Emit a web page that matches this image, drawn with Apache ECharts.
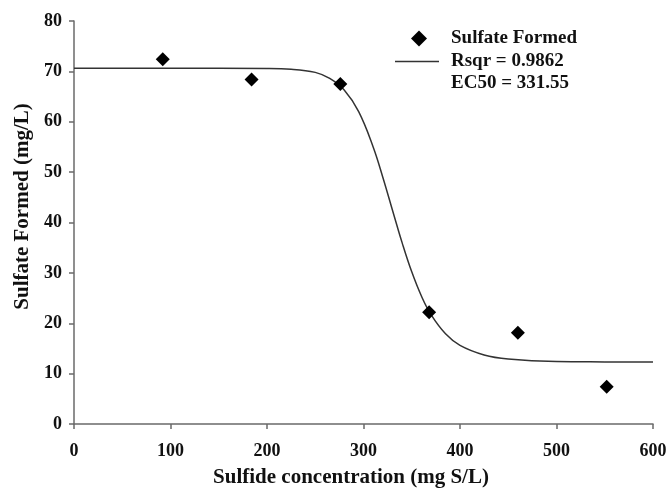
<!DOCTYPE html>
<html lang="en">
<head>
    <meta charset="UTF-8" />
    <title>Sulfate formed vs sulfide concentration</title>
    <script src="https://cdn.jsdelivr.net/npm/echarts@6/dist/echarts.min.js"></script>
    <style>
        html, body { margin: 0; padding: 0; background: #fff; }
        #chart { width: 666px; height: 492px; }
    </style>
</head>
<body>
    <div id="chart"></div>
<script type="text/javascript">
    // measured points
    var sulfideX = [92, 184, 276, 368, 460, 552];
    var sulfateY = [72.4, 68.4, 67.5, 22.2, 18.1, 7.4];

    // fitted sigmoid
    var fitX = [0, 100, 200, 225, 250, 265, 280, 295, 310, 320, 331.55, 340, 350, 360, 370, 385, 400, 425, 450, 500, 550, 600];
    var fitY = [70.6, 70.6, 70.57, 70.43, 69.8, 68.6, 66.3, 62.0, 55.0, 49.0, 41.45, 36.0, 30.2, 25.4, 21.7, 17.9, 15.6, 13.7, 12.9, 12.4, 12.33, 12.3];

    var xTicks = { min: 0, max: 600, step: 100 };
    var yTicks = { min: 0, max: 80, step: 10 };

    var pointName = 'Sulfate Formed';
    var fitName = 'Rsqr = 0.9862';
    var ec50Text = 'EC50 = 331.55';

    var font = 'Liberation Serif';
    var axisColor = '#6a6a6a';
    var legendText = {
        fontFamily: font,
        fontWeight: 'bold',
        fontSize: 19,
        color: '#111'
    };

    var myChart = echarts.init(document.getElementById('chart'));

    var option = {
        animation: false,
        backgroundColor: '#fff',
        grid: {
            left: 74,
            right: 13,
            top: 21,
            bottom: 68,
            containLabel: false,
            outerBoundsMode: 'none'
        },
        legend: [{
            left: 406,
            top: 24,
            itemWidth: 16,
            itemHeight: 16,
            selectedMode: false,
            icon: 'diamond',
            data: [pointName],
            textStyle: Object.assign({ padding: [0, 0, 0, 19] }, legendText)
        }, {
            left: 390,
            top: 47,
            itemWidth: 44,
            itemHeight: 1.5,
            selectedMode: false,
            icon: 'rect',
            data: [fitName],
            textStyle: Object.assign({ padding: [0, 0, 0, 7] }, legendText)
        }],
        graphic: [{
            type: 'text',
            left: 451,
            top: 74,
            style: {
                text: ec50Text,
                font: 'bold 19px "Liberation Serif"',
                fill: '#111'
            }
        }],
        xAxis: {
            type: 'value',
            min: xTicks.min,
            max: xTicks.max,
            interval: xTicks.step,
            name: 'Sulfide concentration (mg S/L)',
            nameLocation: 'middle',
            nameGap: 43,
            nameTextStyle: {
                fontFamily: font,
                fontWeight: 'bold',
                fontSize: 21,
                color: '#111',
                padding: [0, 25, 0, 0]
            },
            axisLine: { lineStyle: { color: axisColor, width: 1.5 } },
            axisTick: { inside: false, length: 5, lineStyle: { color: axisColor, width: 1.5 } },
            axisLabel: {
                margin: 18,
                fontFamily: font,
                fontWeight: 'bold',
                fontSize: 18,
                color: '#111'
            },
            splitLine: { show: false }
        },
        yAxis: {
            type: 'value',
            min: yTicks.min,
            max: yTicks.max,
            interval: yTicks.step,
            name: 'Sulfate Formed (mg/L)',
            nameLocation: 'middle',
            nameRotate: 90,
            nameGap: 40,
            nameTextStyle: {
                fontFamily: font,
                fontWeight: 'bold',
                fontSize: 21,
                color: '#111',
                padding: [0, 0, 0, 32]
            },
            axisLine: { show: true, lineStyle: { color: axisColor, width: 1.5 } },
            axisTick: { show: true, inside: false, length: 5, lineStyle: { color: axisColor, width: 1.5 } },
            axisLabel: {
                margin: 12,
                fontFamily: font,
                fontWeight: 'bold',
                fontSize: 18,
                color: '#111'
            },
            splitLine: { show: false }
        },
        series: [{
            name: pointName,
            type: 'scatter',
            symbol: 'diamond',
            symbolSize: 14,
            itemStyle: { color: '#000', opacity: 1 },
            data: sulfideX.map(function (x, i) { return [x, sulfateY[i]]; }),
            z: 3
        }, {
            name: fitName,
            type: 'line',
            smooth: 0.4,
            showSymbol: false,
            lineStyle: { color: '#333', width: 1.5 },
            itemStyle: { color: '#333' },
            data: fitX.map(function (x, i) { return [x, fitY[i]]; }),
            z: 2
        }]
    };

    myChart.setOption(option);
</script>
</body>
</html>
